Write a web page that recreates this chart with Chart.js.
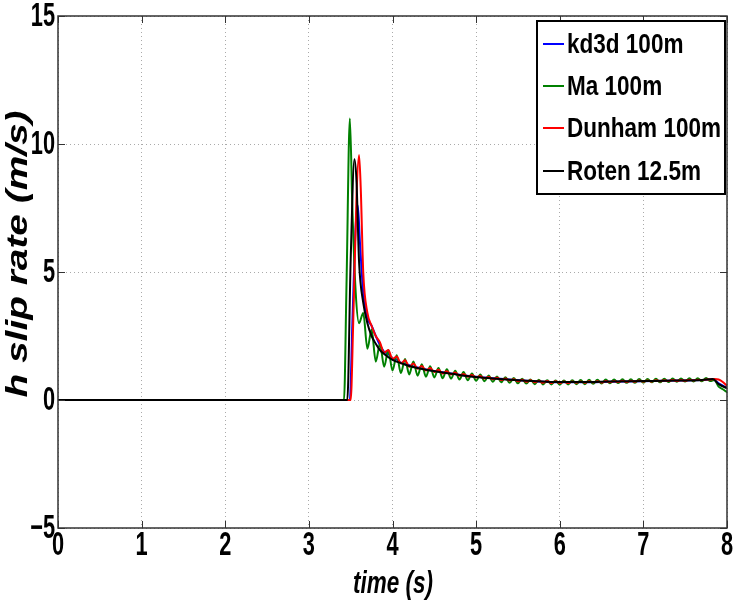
<!DOCTYPE html>
<html>
<head>
<meta charset="utf-8">
<script src="https://cdn.jsdelivr.net/npm/chart.js@4.4.1/dist/chart.umd.min.js"></script>
<style>
  html, body { margin: 0; padding: 0; background: #fff; }
  #wrap { width: 733px; height: 604px; position: relative; }
</style>
</head>
<body>
<div id="wrap"><canvas id="slip" width="733" height="604"></canvas></div>
<script>
// x ticks (s) and y ticks (m/s)
const xTicks = [0, 1, 2, 3, 4, 5, 6, 7, 8];
const yTicks = [-5, 0, 5, 10, 15];

const seriesLabels = ['kd3d 100m', 'Ma 100m', 'Dunham 100m', 'Roten 12.5m'];
const seriesColors = ['#0000ff', '#008000', '#ff0000', '#000000'];

// kd3d 100m
const kd3dTime = [0, 3.46, 3.49, 3.52, 3.56, 3.585, 3.61, 3.65, 3.70, 3.75, 3.80, 3.85, 3.90,
  3.95, 4.00, 4.05, 4.10, 4.20, 4.30, 4.40, 4.50, 4.60, 4.80, 5.00, 5.20, 5.40, 5.60,
  5.80, 6.00, 6.30, 6.60, 7.00, 7.40, 7.70, 7.83, 7.90, 8.00];
const kd3dRate = [0, 0, 0, 3.0, 6.8, 7.6, 6.2, 4.2, 3.2, 2.9, 2.5, 2.15, 1.88,
  1.8, 1.62, 1.58, 1.46, 1.36, 1.27, 1.19, 1.13, 1.08, 0.99, 0.91, 0.85, 0.80, 0.75,
  0.71, 0.69, 0.69, 0.71, 0.73, 0.76, 0.78, 0.81, 0.65, 0.48];

// Roten 12.5m
const rotenTime = [0, 3.46, 3.50, 3.545, 3.57, 3.60, 3.65, 3.70, 3.75, 3.80, 3.85, 3.90,
  4.00, 4.10, 4.20, 4.30, 4.40, 4.60, 4.80, 5.00, 5.20, 5.40, 5.60, 5.80, 6.00, 6.30,
  6.60, 7.00, 7.40, 7.70, 7.83, 7.90, 8.00];
const rotenRate = [0, 0, 5.5, 9.4, 8.5, 5.4, 3.8, 3.0, 2.5, 2.2, 1.95, 1.8,
  1.57, 1.44, 1.33, 1.25, 1.18, 1.07, 0.98, 0.90, 0.84, 0.79, 0.75, 0.72, 0.70, 0.70,
  0.72, 0.74, 0.76, 0.78, 0.82, 0.62, 0.46];

// Ma and Dunham: rise/peak part, then shared oscillating tail
const maHeadTime = [0, 3.42, 3.45, 3.49, 3.52, 3.56, 3.60, 3.65];
const maHead = [0, 0, 4.5, 11.0, 7.5, 4.2, 3.0, 3.4];
const dunhamHeadTime = [0, 3.50, 3.53, 3.57, 3.60, 3.62, 3.65];
const dunhamHead = [0, 0, 3.0, 8.0, 9.57, 8.3, 5.0];

const tailTime = [
  3.70, 3.75, 3.80, 3.85, 3.90, 3.95, 4.00, 4.05, 4.10, 4.15,
  4.20, 4.25, 4.30, 4.35, 4.40, 4.45, 4.50, 4.55, 4.60, 4.65,
  4.70, 4.75, 4.80, 4.85, 4.90, 4.95, 5.00, 5.05, 5.10, 5.15,
  5.20, 5.25, 5.30, 5.35, 5.40, 5.45, 5.50, 5.55, 5.60, 5.65,
  5.70, 5.75, 5.80, 5.85, 5.90, 5.95, 6.00, 6.05, 6.10, 6.15,
  6.20, 6.25, 6.30, 6.35, 6.40, 6.45, 6.50, 6.55, 6.60, 6.65,
  6.70, 6.75, 6.80, 6.85, 6.90, 6.95, 7.00, 7.05, 7.10, 7.15,
  7.20, 7.25, 7.30, 7.35, 7.40, 7.45, 7.50, 7.55, 7.60, 7.65,
  7.70, 7.75, 7.80, 7.85, 7.90, 7.95, 8.00];
const maTail = [
  2.00, 2.75, 1.50, 2.20, 1.30, 1.95, 1.15, 1.75, 1.05, 1.60,
  1.00, 1.50, 0.95, 1.40, 0.91, 1.32, 0.88, 1.25, 0.85, 1.20,
  0.83, 1.14, 0.80, 1.09, 0.77, 1.04, 0.75, 1.00, 0.73, 0.96,
  0.71, 0.92, 0.69, 0.89, 0.67, 0.86, 0.65, 0.83, 0.64, 0.80,
  0.62, 0.79, 0.61, 0.77, 0.61, 0.76, 0.60, 0.76, 0.61, 0.77,
  0.62, 0.78, 0.62, 0.79, 0.63, 0.79, 0.64, 0.80, 0.65, 0.80,
  0.66, 0.81, 0.67, 0.81, 0.67, 0.82, 0.68, 0.82, 0.69, 0.83,
  0.69, 0.83, 0.70, 0.84, 0.71, 0.84, 0.72, 0.85, 0.72, 0.85,
  0.73, 0.86, 0.74, 0.78, 0.52, 0.42, 0.30];
const dunhamTail = [
  3.40, 2.90, 2.50, 2.25, 1.85, 1.95, 1.60, 1.70, 1.43, 1.55,
  1.30, 1.43, 1.22, 1.33, 1.15, 1.25, 1.09, 1.18, 1.04, 1.12,
  1.00, 1.07, 0.95, 1.02, 0.91, 0.98, 0.88, 0.94, 0.84, 0.90,
  0.81, 0.87, 0.78, 0.84, 0.76, 0.81, 0.73, 0.79, 0.71, 0.77,
  0.69, 0.75, 0.67, 0.74, 0.66, 0.73, 0.66, 0.72, 0.66, 0.72,
  0.67, 0.72, 0.67, 0.73, 0.68, 0.73, 0.68, 0.74, 0.69, 0.74,
  0.70, 0.75, 0.70, 0.75, 0.71, 0.76, 0.72, 0.76, 0.72, 0.77,
  0.73, 0.77, 0.74, 0.78, 0.74, 0.78, 0.75, 0.79, 0.76, 0.79,
  0.77, 0.80, 0.80, 0.82, 0.80, 0.70, 0.55];

const FONT = '"Liberation Sans", Arial, sans-serif';

function toPoints(times, values) {
  return times.map((t, i) => ({ x: t, y: values[i] }));
}

const seriesData = [
  toPoints(kd3dTime, kd3dRate),
  toPoints(maHeadTime.concat(tailTime), maHead.concat(maTail)),
  toPoints(dunhamHeadTime.concat(tailTime), dunhamHead.concat(dunhamTail)),
  toPoints(rotenTime, rotenRate),
];

// the original figure is squeezed sideways, so text is drawn with a horizontal scale
function squeezed(ctx, text, x, y, sx) {
  ctx.save();
  ctx.translate(x, y);
  ctx.scale(sx, 1);
  ctx.fillText(text, 0, 0);
  ctx.restore();
}

function tickText(v) {
  return v < 0 ? '\u2212' + Math.abs(v) : String(v);
}

// MATLAB-like frame, inward ticks, labels, axis titles and boxed legend
const framePlugin = {
  id: 'frame',
  afterDraw(chart) {
    const ctx = chart.ctx;
    const { left, right, top, bottom } = chart.chartArea;
    const xs = chart.scales.x, ys = chart.scales.y;
    ctx.save();
    ctx.strokeStyle = '#333';
    ctx.lineWidth = 1.5;
    ctx.strokeRect(left, top, right - left, bottom - top);
    ctx.lineWidth = 1;
    ctx.beginPath();
    xs.ticks.forEach(t => {
      const p = Math.round(xs.getPixelForValue(t.value)) + 0.5;
      ctx.moveTo(p, bottom); ctx.lineTo(p, bottom - 7);
      ctx.moveTo(p, top); ctx.lineTo(p, top + 7);
    });
    ys.ticks.forEach(t => {
      const p = Math.round(ys.getPixelForValue(t.value)) + 0.5;
      ctx.moveTo(left, p); ctx.lineTo(left + 7, p);
      ctx.moveTo(right, p); ctx.lineTo(right - 7, p);
    });
    ctx.stroke();

    // tick labels
    ctx.fillStyle = '#000';
    ctx.font = 'bold 33px ' + FONT;
    ctx.textBaseline = 'middle';
    ctx.textAlign = 'center';
    xs.ticks.forEach(t => {
      squeezed(ctx, tickText(t.value), xs.getPixelForValue(t.value), 546, 0.66);
    });
    ctx.textAlign = 'right';
    ys.ticks.forEach(t => {
      squeezed(ctx, tickText(t.value), left - 3, ys.getPixelForValue(t.value) + 1, 0.66);
    });

    // axis titles
    ctx.textAlign = 'center';
    ctx.font = 'italic bold 30px ' + FONT;
    ctx.save();
    ctx.translate(19, 254);
    ctx.rotate(-Math.PI / 2);
    const tw = ctx.measureText('h slip rate (m/s)').width;
    squeezed(ctx, 'h slip rate (m/s)', 0, 0, 287 / tw);
    ctx.restore();
    ctx.font = 'italic bold 31px ' + FONT;
    squeezed(ctx, 'time (s)', 393, 584, 80 / ctx.measureText('time (s)').width);

    // legend
    const lx = 537, ly = 21, lw = 188, lh = 173;
    ctx.fillStyle = '#fff';
    ctx.fillRect(lx, ly, lw, lh);
    ctx.strokeStyle = '#000';
    ctx.lineWidth = 2;
    ctx.strokeRect(lx, ly, lw, lh);
    ctx.font = 'bold 28px ' + FONT;
    ctx.textAlign = 'left';
    const sx = 154 / ctx.measureText('Dunham 100m').width;
    const rowY = [44, 86, 128, 171];
    chart.data.datasets.forEach((ds, i) => {
      ctx.strokeStyle = ds.borderColor;
      ctx.lineWidth = 2;
      ctx.beginPath();
      ctx.moveTo(543, rowY[i]); ctx.lineTo(564, rowY[i]);
      ctx.stroke();
      ctx.fillStyle = '#000';
      squeezed(ctx, ds.label, 567, rowY[i] + 1, sx);
    });
    ctx.restore();
  },
};

new Chart(document.getElementById('slip'), {
  type: 'line',
  data: {
    datasets: seriesLabels.map((label, i) => ({
      label,
      data: seriesData[i],
      borderColor: seriesColors[i],
      backgroundColor: seriesColors[i],
      borderWidth: 2,
      pointRadius: 0,
      fill: false,
      cubicInterpolationMode: 'monotone',
      order: 3 - i,
    })),
  },
  options: {
    responsive: false,
    animation: false,
    devicePixelRatio: 1,
    layout: { padding: { top: 16, right: 6, left: 0, bottom: 0 } },
    plugins: {
      legend: { display: false },
      tooltip: { enabled: false },
    },
    scales: {
      x: {
        type: 'linear',
        min: 0,
        max: 8,
        afterBuildTicks: s => { s.ticks = xTicks.map(v => ({ value: v })); },
        afterFit: s => { s.height = 76; },
        ticks: { display: false },
        grid: { color: '#aaa', lineWidth: 1, drawTicks: false },
        border: { display: false, dash: [1, 3] },
      },
      y: {
        type: 'linear',
        min: -5,
        max: 15,
        afterBuildTicks: s => { s.ticks = yTicks.map(v => ({ value: v })); },
        afterFit: s => { s.width = 58; },
        ticks: { display: false },
        grid: { color: '#aaa', lineWidth: 1, drawTicks: false },
        border: { display: false, dash: [1, 3] },
      },
    },
  },
  plugins: [framePlugin],
});
</script>
</body>
</html>
